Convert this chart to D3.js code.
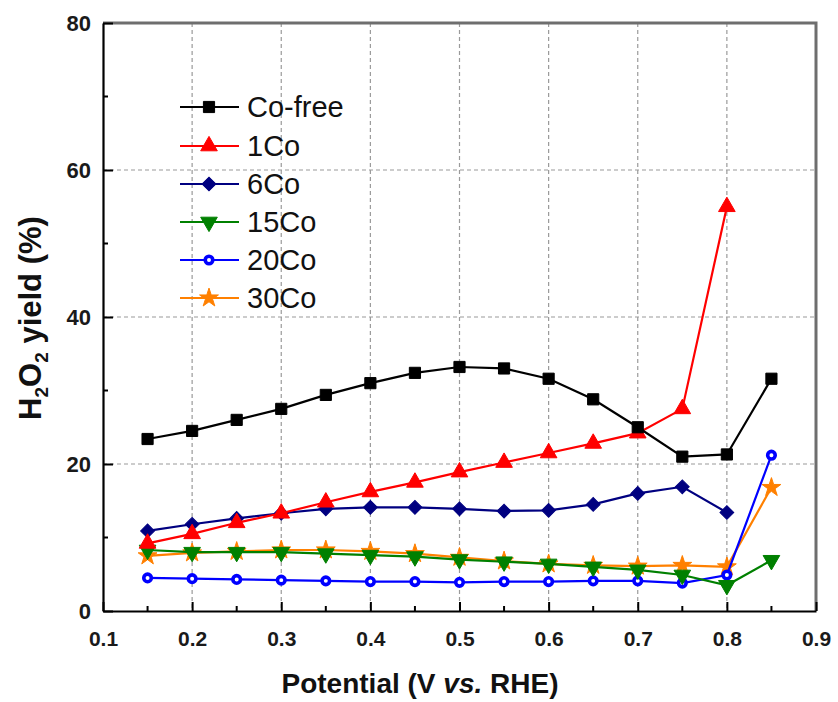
<!DOCTYPE html>
<html>
<head>
<meta charset="utf-8">
<script src="https://cdn.jsdelivr.net/npm/d3@7"></script>
<style>
  html, body { margin: 0; padding: 0; background: #fff; }
  svg { display: block; font-family: "Liberation Sans", Arial, sans-serif; }
</style>
</head>
<body>
<svg id="chart" width="838" height="702"></svg>
<script>
// Potential values (V vs. RHE)
const potential = [0.15, 0.20, 0.25, 0.30, 0.35, 0.40, 0.45, 0.50, 0.55, 0.60, 0.65, 0.70, 0.75, 0.80, 0.85];

// H2O2 yield (%) per catalyst
const coFree = [23.4, 24.5, 26.0, 27.5, 29.4, 31.0, 32.4, 33.2, 33.0, 31.6, 28.8, 25.0, 21.0, 21.3, 31.6];
const co1    = [9.2, 10.5, 12.0, 13.3, 14.8, 16.2, 17.5, 18.9, 20.2, 21.5, 22.8, 24.2, 27.5, 55.0];
const co6    = [10.9, 11.8, 12.6, 13.3, 13.9, 14.1, 14.1, 13.9, 13.6, 13.7, 14.5, 16.0, 16.9, 13.4];
const co15   = [8.3, 8.0, 8.0, 8.0, 7.8, 7.6, 7.4, 7.0, 6.7, 6.4, 6.0, 5.6, 4.9, 3.5, 6.9];
const co20   = [4.5, 4.4, 4.3, 4.2, 4.1, 4.0, 4.0, 3.9, 4.0, 4.0, 4.1, 4.1, 3.8, 4.9, 21.2];
const co30   = [7.5, 7.9, 8.1, 8.3, 8.3, 8.1, 7.8, 7.3, 6.8, 6.4, 6.2, 6.1, 6.2, 6.0, 16.8];

const seriesNames = ["Co-free", "1Co", "6Co", "15Co", "20Co", "30Co"];
const seriesValues = [coFree, co1, co6, co15, co20, co30];
const seriesColors = ["#000000", "#ff0000", "#000080", "#008000", "#0000ff", "#ff8000"];

const xTicks = [0.1, 0.2, 0.3, 0.4, 0.5, 0.6, 0.7, 0.8, 0.9];
const yTicks = [0, 20, 40, 60, 80];
const xMinorTicks = [0.15, 0.25, 0.35, 0.45, 0.55, 0.65, 0.75, 0.85];
const yMinorTicks = [10, 30, 50, 70];

const svg = d3.select("#chart");
const plot = { left: 103, right: 816, top: 23, bottom: 611 };

const x = d3.scaleLinear().domain([0.1, 0.9]).range([plot.left, plot.right]);
const y = d3.scaleLinear().domain([0, 80]).range([plot.bottom, plot.top]);

// dashed grid at the major ticks
const grid = svg.append("g").attr("stroke", "#9a9a9a").attr("stroke-width", 1.2).attr("stroke-dasharray", "4,3");
xTicks.slice(1, -1).forEach(t => {
  grid.append("line").attr("x1", x(t)).attr("x2", x(t)).attr("y1", plot.top).attr("y2", plot.bottom);
});
yTicks.slice(1, -1).forEach(t => {
  grid.append("line").attr("x1", plot.left).attr("x2", plot.right).attr("y1", y(t)).attr("y2", y(t));
});

// top and right frame lines
svg.append("path")
  .attr("d", `M${plot.left},${plot.top}H${plot.right}V${plot.bottom}`)
  .attr("fill", "none").attr("stroke", "#6e6e6e").attr("stroke-width", 3);

// bottom axis, ticks pointing inward
const xAxis = svg.append("g").attr("transform", `translate(0,${plot.bottom})`)
  .call(d3.axisBottom(x).tickValues(xTicks).tickFormat(d3.format(".1f")).tickSizeInner(-9).tickSizeOuter(0));
xAxis.selectAll("text").attr("y", 20).attr("dy", "0.71em")
  .attr("font-size", 21).attr("font-weight", "bold").attr("fill", "#1a1a1a");
xAxis.append("g").selectAll("line").data(xMinorTicks).join("line")
  .attr("x1", d => x(d)).attr("x2", d => x(d)).attr("y1", 0).attr("y2", -5)
  .attr("stroke", "#000").attr("stroke-width", 2);

// left axis, ticks pointing inward
const yAxis = svg.append("g").attr("transform", `translate(${plot.left},0)`)
  .call(d3.axisLeft(y).tickValues(yTicks).tickSizeInner(-10).tickSizeOuter(0));
yAxis.selectAll("text").attr("x", -12).attr("dy", "0.36em")
  .attr("font-size", 22).attr("font-weight", "bold").attr("fill", "#1a1a1a");
yAxis.append("g").selectAll("line").data(yMinorTicks).join("line")
  .attr("y1", d => y(d)).attr("y2", d => y(d)).attr("x1", 0).attr("x2", 5)
  .attr("stroke", "#000").attr("stroke-width", 2);

[xAxis, yAxis].forEach(a => {
  a.select(".domain").attr("stroke", "#000").attr("stroke-width", 2.2);
  a.selectAll(".tick line").attr("stroke", "#000").attr("stroke-width", 2);
});

// marker shapes per series
const symbolFor = [
  { type: d3.symbolSquare, size: 125, rotate: 0 },
  { type: d3.symbolTriangle, size: 120, rotate: 0 },
  { type: d3.symbolSquare, size: 95, rotate: 45 },
  { type: d3.symbolTriangle, size: 120, rotate: 180 },
  { type: d3.symbolCircle, size: 45, rotate: 0 },
  { type: d3.symbolStar, size: 110, rotate: 0 }
];

function drawMarker(g, i, cx, cy) {
  const s = symbolFor[i];
  const p = g.append("path")
    .attr("d", d3.symbol().type(s.type).size(s.size)())
    .attr("transform", `translate(${cx},${cy}) rotate(${s.rotate})`);
  if (i === 4) {
    p.attr("fill", "#fff").attr("stroke", seriesColors[i]).attr("stroke-width", 3.6);
  } else {
    p.attr("fill", seriesColors[i]).attr("stroke", seriesColors[i]).attr("stroke-width", 1);
  }
}

const line = d3.line().x(d => x(d[0])).y(d => y(d[1]));
const plotG = svg.append("g");

// draw series in reverse so Co-free sits on top
for (let i = seriesValues.length - 1; i >= 0; i--) {
  const pts = seriesValues[i].map((v, k) => [potential[k], v]);
  const g = plotG.append("g");
  g.append("path").datum(pts).attr("d", line)
    .attr("fill", "none").attr("stroke", seriesColors[i]).attr("stroke-width", 2.2);
  pts.forEach(p => drawMarker(g, i, x(p[0]), y(p[1])));
}

// legend
const legend = svg.append("g");
const legendRows = [107, 146, 184, 222, 260, 298];
seriesNames.forEach((name, i) => {
  const cy = legendRows[i];
  legend.append("line").attr("x1", 180).attr("x2", 239).attr("y1", cy).attr("y2", cy)
    .attr("stroke", seriesColors[i]).attr("stroke-width", 2.2);
  drawMarker(legend, i, 209, cy);
  legend.append("text").attr("x", 247).attr("y", cy).attr("dy", "0.36em")
    .attr("font-size", 29).attr("fill", "#111").text(name);
});

// axis titles
svg.append("text").attr("x", 420).attr("y", 693).attr("text-anchor", "middle")
  .attr("font-size", 28).attr("font-weight", "bold").attr("fill", "#111")
  .call(t => {
    t.append("tspan").text("Potential (V ");
    t.append("tspan").attr("font-style", "italic").text("vs.");
    t.append("tspan").text(" RHE)");
  });

svg.append("text")
  .attr("transform", "translate(41,318) rotate(-90)")
  .attr("text-anchor", "middle")
  .attr("font-size", 31).attr("font-weight", "bold").attr("fill", "#111")
  .call(t => {
    t.append("tspan").text("H");
    t.append("tspan").attr("font-size", 19).attr("dy", 7).text("2");
    t.append("tspan").attr("dy", -7).text("O");
    t.append("tspan").attr("font-size", 19).attr("dy", 7).text("2");
    t.append("tspan").attr("dy", -7).text(" yield (%)");
  });
</script>
</body>
</html>
